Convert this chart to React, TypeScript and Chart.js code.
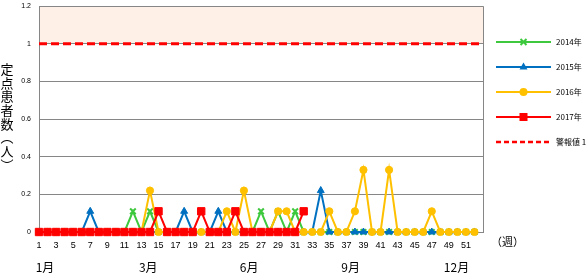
import React, { useEffect, useRef } from 'react';
import { Chart, registerables } from 'chart.js';

Chart.register(...registerables);

const WEEKS = [
  '1', '2', '3', '4', '5', '6', '7', '8', '9', '10',
  '11', '12', '13', '14', '15', '16', '17', '18', '19', '20',
  '21', '22', '23', '24', '25', '26', '27', '28', '29', '30',
  '31', '32', '33', '34', '35', '36', '37', '38', '39', '40',
  '41', '42', '43', '44', '45', '46', '47', '48', '49', '50',
  '51', '52', '53',
];

const S2014 = [
  0, 0, 0, 0, 0, 0, 0, 0, 0, 0,
  0, 0.11, 0, 0.11, 0, 0, 0, 0, 0, 0,
  0, 0, 0, 0, 0, 0, 0.11, 0, 0.11, 0,
  0.11, 0, 0, 0, 0, 0, 0, 0, 0, 0,
  0, 0, 0, 0, 0, 0, 0, 0, 0, 0,
  0, 0,
];
const S2015 = [
  0, 0, 0, 0, 0, 0, 0.11, 0, 0, 0,
  0, 0, 0, 0, 0, 0, 0, 0.11, 0, 0,
  0, 0.11, 0, 0, 0, 0, 0, 0, 0, 0,
  0, 0, 0, 0.22, 0, 0, 0, 0, 0, 0,
  0, 0, 0, 0, 0, 0, 0, 0, 0, 0,
  0, 0,
];
const S2016 = [
  0, 0, 0, 0, 0, 0, 0, 0, 0, 0,
  0, 0, 0, 0.22, 0, 0, 0, 0, 0, 0,
  0, 0, 0.11, 0, 0.22, 0, 0, 0, 0.11, 0.11,
  0, 0, 0, 0, 0.11, 0, 0, 0.11, 0.33, 0,
  0, 0.33, 0, 0, 0, 0, 0.11, 0, 0, 0,
  0, 0,
];
const S2017 = [
  0, 0, 0, 0, 0, 0, 0, 0, 0, 0,
  0, 0, 0, 0, 0.11, 0, 0, 0, 0, 0.11,
  0, 0, 0, 0.11, 0, 0, 0, 0, 0, 0,
  0, 0.11,
];

const ALARM = 1;
const Y_MIN = 0;
const Y_MAX = 1.2;
const Y_STEP = 0.2;

const SERIES_NAMES = ['2014年', '2015年', '2016年', '2017年'];
const ALARM_NAME = '警報値 1';
const MONTHS = ['1月', '3月', '6月', '9月', '12月'];
const MONTH_POS = [0.7, 12.8, 24.6, 36.5, 48.9]; // category index positions
const Y_TITLE = ['定', '点', '患', '者', '数', '︵', '人', '︶'];
const X_UNIT = '（週）';

const GREEN = '#3DC83D';
const BLUE = '#0070C0';
const YELLOW = '#FFC000';
const RED = '#FF0000';
const GRID = '#868686';
const SHADE = '#FEF0E6';
const JP = '"Noto Sans CJK JP", "Noto Sans", sans-serif';

function drawMarker(ctx: CanvasRenderingContext2D, style: string, x: number, y: number, color: string) {
  ctx.save();
  ctx.fillStyle = color;
  ctx.strokeStyle = color;
  if (style === 'crossRot') {
    ctx.lineWidth = 2;
    ctx.beginPath();
    ctx.moveTo(x - 3, y - 3); ctx.lineTo(x + 3, y + 3);
    ctx.moveTo(x + 3, y - 3); ctx.lineTo(x - 3, y + 3);
    ctx.stroke();
  } else if (style === 'triangle') {
    ctx.beginPath();
    ctx.moveTo(x, y - 4.5); ctx.lineTo(x + 4, y + 2.5); ctx.lineTo(x - 4, y + 2.5);
    ctx.closePath(); ctx.fill();
  } else if (style === 'circle') {
    ctx.beginPath(); ctx.arc(x, y, 4, 0, Math.PI * 2); ctx.fill();
  } else if (style === 'rect') {
    ctx.fillRect(x - 4, y - 4, 8, 8);
  }
  ctx.restore();
}

const decor = {
  id: 'decor',
  beforeDraw(chart: any) {
    const { ctx, chartArea, scales } = chart;
    const y = scales.y;
    const yTop = y.getPixelForValue(Y_MAX);
    const yA = y.getPixelForValue(ALARM);
    ctx.save();
    ctx.fillStyle = SHADE;
    ctx.fillRect(chartArea.left, yTop, chartArea.right - chartArea.left, yA - yTop);
    ctx.restore();
  },
  afterDraw(chart: any) {
    const { ctx, chartArea, scales } = chart;
    const x = scales.x;
    ctx.save();
    ctx.strokeStyle = GRID;
    ctx.lineWidth = 1;
    ctx.beginPath();
    ctx.moveTo(Math.round(chartArea.right) + 0.5, chartArea.top);
    ctx.lineTo(Math.round(chartArea.right) + 0.5, chartArea.bottom);
    ctx.stroke();

    ctx.fillStyle = '#000';
    ctx.font = `13px ${JP}`;
    ctx.textAlign = 'center';
    ctx.textBaseline = 'middle';
    Y_TITLE.forEach((ch, i) => {
      ctx.fillText(ch, 7, 69 + i * 13.7);
    });

    ctx.font = `12px ${JP}`;
    MONTHS.forEach((m, i) => {
      ctx.fillText(m, x.getPixelForValue(MONTH_POS[i]), 267);
    });

    ctx.textAlign = 'left';
    ctx.font = `11px ${JP}`;
    ctx.fillText(X_UNIT, 491, 242);

    const items = [
      { name: SERIES_NAMES[0], color: GREEN, style: 'crossRot' },
      { name: SERIES_NAMES[1], color: BLUE, style: 'triangle' },
      { name: SERIES_NAMES[2], color: YELLOW, style: 'circle' },
      { name: SERIES_NAMES[3], color: RED, style: 'rect' },
      { name: ALARM_NAME, color: RED, style: 'dash' },
    ];
    ctx.font = `8px ${JP}`;
    items.forEach((it, i) => {
      const ly = 42 + i * 25;
      ctx.save();
      ctx.strokeStyle = it.color;
      if (it.style === 'dash') {
        ctx.lineWidth = 2.5;
        ctx.setLineDash([5, 3]);
      } else {
        ctx.lineWidth = 2;
      }
      ctx.beginPath();
      ctx.moveTo(496, ly);
      ctx.lineTo(551, ly);
      ctx.stroke();
      ctx.restore();
      if (it.style !== 'dash') drawMarker(ctx, it.style, 523.5, ly, it.color);
      ctx.fillStyle = '#000';
      ctx.textAlign = 'left';
      ctx.textBaseline = 'middle';
      ctx.fillText(it.name, 556, ly);
    });
    ctx.restore();
  },
};

export default function App() {
  const ref = useRef<HTMLCanvasElement | null>(null);
  useEffect(() => {
    if (!ref.current) return;
    const chart = new Chart(ref.current, {
      type: 'line',
      data: {
        labels: WEEKS,
        datasets: [
          {
            label: SERIES_NAMES[0], data: S2014, order: 4, clip: false,
            borderColor: GREEN, backgroundColor: GREEN, borderWidth: 2,
            pointStyle: 'crossRot', pointRadius: 4, pointBorderWidth: 2, tension: 0,
          },
          {
            label: SERIES_NAMES[1], data: S2015, order: 3, clip: false,
            borderColor: BLUE, backgroundColor: BLUE, borderWidth: 2,
            pointStyle: 'triangle', pointRadius: 4, pointBorderWidth: 1, tension: 0,
          },
          {
            label: SERIES_NAMES[2], data: S2016, order: 2, clip: false,
            borderColor: YELLOW, backgroundColor: YELLOW, borderWidth: 2,
            pointStyle: 'circle', pointRadius: 3.6, pointBorderWidth: 1, tension: 0,
          },
          {
            label: SERIES_NAMES[3], data: S2017, order: 1, clip: false,
            borderColor: RED, backgroundColor: RED, borderWidth: 2,
            pointStyle: 'rect', pointRadius: 5.2, pointBorderWidth: 1, tension: 0,
          },
          {
            label: ALARM_NAME,
            data: [{ x: WEEKS[0], y: ALARM }, { x: WEEKS[WEEKS.length - 1], y: ALARM }] as any,
            order: 5, borderColor: RED, borderWidth: 3, borderDash: [8, 4],
            pointRadius: 0, fill: false, tension: 0,
          },
        ],
      },
      options: {
        animation: false,
        responsive: false,
        devicePixelRatio: 1,
        events: [],
        layout: { padding: { left: 0, top: 3, right: 104, bottom: 0 } },
        plugins: { legend: { display: false }, tooltip: { enabled: false } },
        scales: {
          x: {
            type: 'category',
            offset: false,
            grid: { display: false, drawTicks: false },
            border: { display: true, color: GRID, width: 1 },
            ticks: {
              autoSkip: false, maxRotation: 0, minRotation: 0, padding: 8,
              color: '#000', font: { size: 9, family: '"Liberation Sans", sans-serif' },
              callback: (_v: any, i: number) => (i % 2 === 0 && i <= 50 ? WEEKS[i] : ''),
            },
            afterFit: (s: any) => { s.height = 41; s.paddingLeft = 0; s.paddingRight = 0; },
          },
          y: {
            min: Y_MIN, max: Y_MAX,
            grid: { color: GRID, lineWidth: 1, drawTicks: false },
            border: { display: true, color: GRID, width: 1 },
            ticks: {
              stepSize: Y_STEP, padding: 8, color: '#000',
              font: { size: 7, family: '"Liberation Sans", sans-serif' },
              callback: (v: any) => String(Number(Number(v).toFixed(2))),
            },
            afterFit: (s: any) => { s.width = 39; s.paddingTop = 0; s.paddingBottom = 0; },
          },
        },
      },
      plugins: [decor],
    } as any);
    return () => chart.destroy();
  }, []);
  return (
    <div style={{ position: 'fixed', left: 0, top: 0, width: 587, height: 273, background: '#fff' }}>
      <canvas ref={ref} width={587} height={273} style={{ display: 'block' }} />
    </div>
  );
}
